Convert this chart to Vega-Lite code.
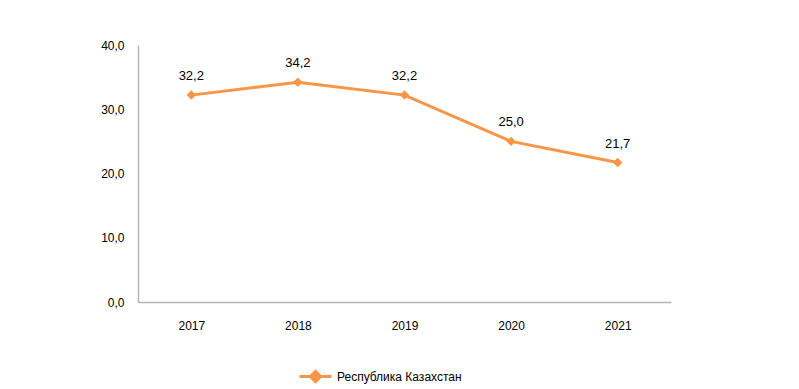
{
  "$schema": "https://vega.github.io/schema/vega-lite/v6.json",
  "width": 533,
  "height": 257,
  "autosize": "none",
  "padding": {"left": 138, "top": 45, "right": 128, "bottom": 87},
  "background": "white",
  "config": {
    "view": {"stroke": null},
    "font": "Liberation Sans",
    "axis": {"grid": false, "ticks": false, "domainColor": "#b3b3b3", "domainWidth": 1.5, "labelColor": "#000000", "labelFontSize": 12, "titleFontSize": 12}
  },
  "data": {
    "values": [
      {"year": "2017", "value": 32.2, "series": "Республика Казахстан"},
      {"year": "2018", "value": 34.2, "series": "Республика Казахстан"},
      {"year": "2019", "value": 32.2, "series": "Республика Казахстан"},
      {"year": "2020", "value": 25.0, "series": "Республика Казахстан"},
      {"year": "2021", "value": 21.7, "series": "Республика Казахстан"}
    ]
  },
  "transform": [
    {"calculate": "replace(format(datum.value, '.1f'), '.', ',')", "as": "label"}
  ],
  "encoding": {
    "x": {"field": "year", "type": "ordinal", "title": null, "scale": {"type": "point", "padding": 0.5},
      "axis": {"labelAngle": 0, "labelPadding": 18}},
    "y": {"field": "value", "type": "quantitative", "title": null, "scale": {"domain": [0, 40]},
      "axis": {"values": [0, 10, 20, 30, 40], "labelPadding": 14, "labelExpr": "replace(format(datum.value, '.1f'), '.', ',')"}}
  },
  "layer": [
    {
      "mark": {"type": "line", "strokeWidth": 3},
      "encoding": {
        "color": {"field": "series", "type": "nominal", "scale": {"range": ["#F79646"]},
          "legend": {"title": null, "orient": "none", "legendX": 160, "legendY": 314, "labelFontSize": 12, "labelColor": "#000000",
            "symbolType": "M-1,0H1M-0.32,0L0,-0.32L0.32,0L0,0.32Z", "symbolSize": 1024, "symbolStrokeWidth": 3, "symbolFillColor": "#F79646", "symbolStrokeColor": "#F79646", "labelOffset": 4}}
      }
    },
    {
      "mark": {"type": "point", "shape": "diamond", "filled": true, "size": 90, "color": "#F79646", "opacity": 1}
    },
    {
      "mark": {"type": "text", "dy": -19, "fontSize": 13, "color": "#000000"},
      "encoding": {"text": {"field": "label", "type": "nominal"}}
    }
  ]
}
